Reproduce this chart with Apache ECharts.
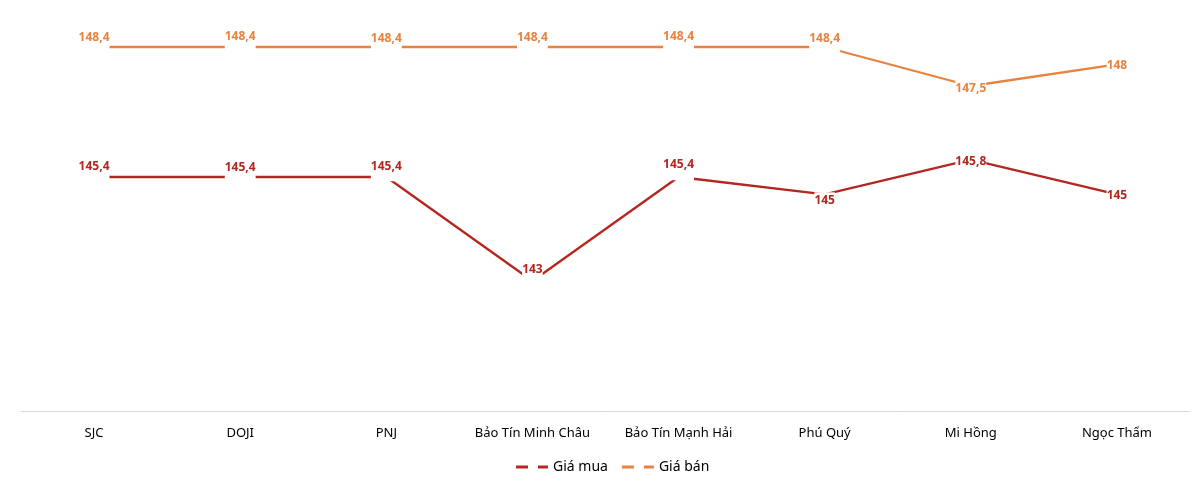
<!DOCTYPE html>
<html>
<head>
<meta charset="utf-8">
<script src="https://cdn.jsdelivr.net/npm/echarts@6/dist/echarts.min.js"></script>
<style>
html,body{margin:0;padding:0;background:#fff;}
#chart{width:1200px;height:484px;}
</style>
</head>
<body>
<div id="chart"></div>
<script>
// Data
var categories = ['SJC', 'DOJI', 'PNJ', 'Bảo Tín Minh Châu', 'Bảo Tín Mạnh Hải', 'Phú Quý', 'Mi Hồng', 'Ngọc Thẩm'];
var giaMua = [145.4, 145.4, 145.4, 143, 145.4, 145, 145.8, 145];
var giaBan = [148.4, 148.4, 148.4, 148.4, 148.4, 148.4, 147.5, 148];
var seriesNames = ['Giá mua', 'Giá bán'];

// Label placement (vertical shift of label text centre from point, px)
var muaLabelDy = [-12, -11, -12, -13, -14, 4.5, 0, 0];
var banLabelDy = [-10.5, -11.5, -10, -11, -11.5, -10, 1, 0];

var RED = '#B4261F';
var ORANGE = '#E8833F';

function fmt(v) { return String(v).replace('.', ','); }

function labelFor(dy) {
  var oy = dy + 1.5;
  var pb = dy < -4 ? Math.max(1, 4 - oy) : 1;
  return { position: 'inside', offset: [0, oy], padding: [1, 0, pb, 0] };
}

function buildData(values, dys) {
  return values.map(function (v, i) {
    return { value: v, label: labelFor(dys[i]) };
  });
}

function makeSeries(name, values, dys, color) {
  return {
    name: name,
    type: 'line',
    data: buildData(values, dys),
    symbol: 'circle',
    symbolSize: 1,
    itemStyle: { color: color },
    lineStyle: { color: color, width: 2.3 },
    label: {
      show: true,
      color: color,
      fontFamily: 'Noto Sans',
      fontWeight: 'bold',
      fontSize: 12,
      lineHeight: 14,
      backgroundColor: '#fff',
      formatter: function (p) { return fmt(p.value); }
    },
    emphasis: { disabled: true },
    animation: false
  };
}

var chart = echarts.init(document.getElementById('chart'), null, { renderer: 'canvas' });
chart.setOption({
  backgroundColor: '#fff',
  animation: false,
  grid: { left: 21, right: 10, top: 21, bottom: 73, containLabel: false },
  xAxis: {
    type: 'category',
    data: categories,
    boundaryGap: true,
    axisTick: { show: false },
    axisLine: { show: true, lineStyle: { color: '#d9d9d9', width: 1 } },
    axisLabel: { color: '#000', fontFamily: 'Noto Sans', fontSize: 13, margin: 16, interval: 0 }
  },
  yAxis: {
    type: 'value',
    min: 140,
    max: 149,
    show: false,
    splitLine: { show: false }
  },
  legend: {
    bottom: 5,
    left: 511,
    itemWidth: 32,
    itemHeight: 3,
    itemGap: 14,
    icon: 'path://M0,0H12V3H0Z M22,0H32V3H22Z',
    textStyle: { color: '#000', fontFamily: 'Noto Sans', fontSize: 14 },
    data: seriesNames
  },
  series: [
    makeSeries(seriesNames[0], giaMua, muaLabelDy, RED),
    makeSeries(seriesNames[1], giaBan, banLabelDy, ORANGE)
  ]
});
</script>
</body>
</html>
